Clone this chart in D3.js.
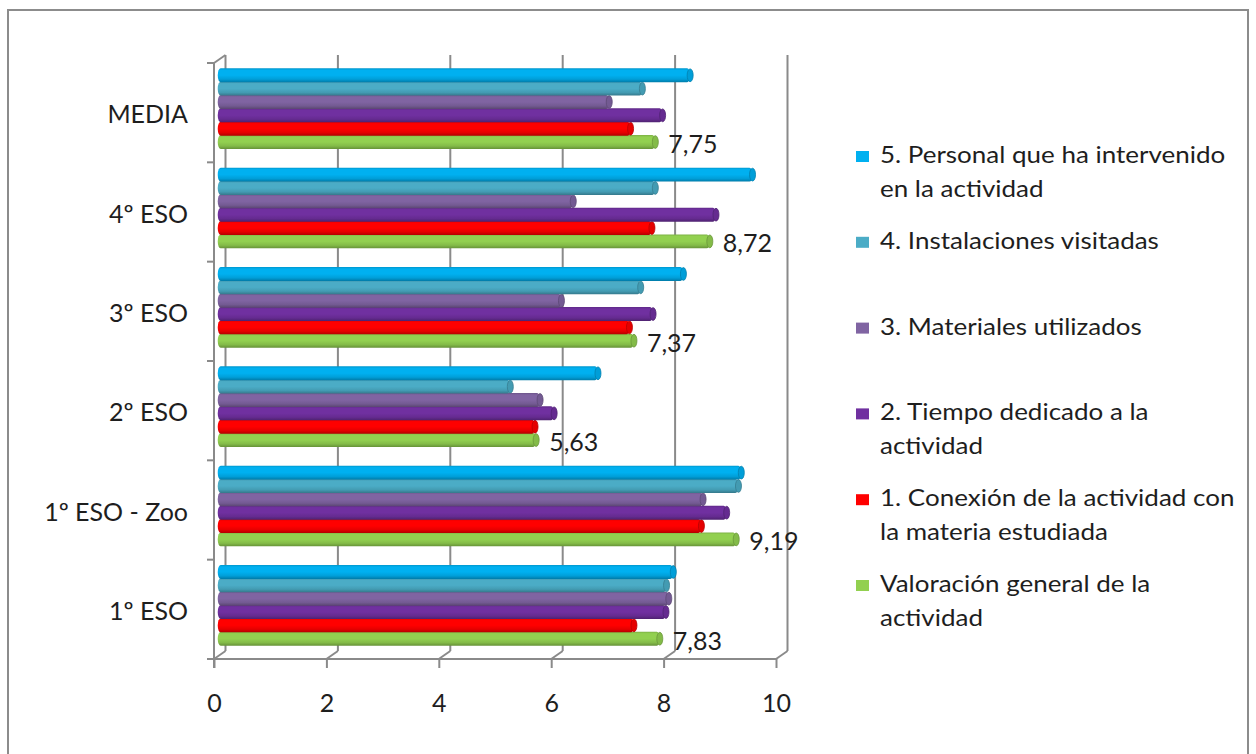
<!DOCTYPE html>
<html><head><meta charset="utf-8">
<script src="https://cdn.jsdelivr.net/npm/d3@7"></script>
<style>
body{margin:0;background:#fff}
svg{display:block}
text{font-family:Lato,"Open Sans",sans-serif;fill:#1e1e1e}
</style>
</head><body>
<svg id="c" width="1256" height="754"></svg>
<script>
// ---- data ----
const categories = ["1º ESO", "1º ESO - Zoo", "2º ESO", "3º ESO", "4º ESO", "MEDIA"];
const seriesKeys = ["valoracion", "conexion", "tiempo", "materiales", "instalaciones", "personal"];
const seriesColors = ["#92D050", "#FF0000", "#7030A0", "#8064A2", "#4BACC6", "#00B0F0"];
const legendLabels = [
  ["Valoración general de la", "actividad"],
  ["1. Conexión de la actividad con", "la materia estudiada"],
  ["2. Tiempo dedicado a la", "actividad"],
  ["3. Materiales utilizados"],
  ["4. Instalaciones visitadas"],
  ["5. Personal que ha intervenido", "en la actividad"]
];
const valoracion    = [7.83, 9.19, 5.63, 7.37, 8.72, 7.75];
const conexion      = [7.37, 8.57, 5.61, 7.29, 7.69, 7.31];
const tiempo        = [7.94, 9.02, 5.95, 7.71, 8.83, 7.88];
const materiales    = [7.99, 8.60, 5.70, 6.08, 6.29, 6.93];
const instalaciones = [7.95, 9.23, 5.17, 7.49, 7.75, 7.52];
const personal      = [8.07, 9.28, 6.73, 8.25, 9.48, 8.37];
const xTicks = [0, 2, 4, 6, 8, 10];
const seriesValues = [valoracion, conexion, tiempo, materiales, instalaciones, personal];

// ---- layout ----
const svg = d3.select("#c");
const L = 214, R = 776, T = 63, B = 659;
const DX = 11.5, DY = -8;          // depth offset (front -> back wall)
const axisCol = "#8a8a8a";

// outer border
svg.append("rect").attr("x", 8).attr("y", 10).attr("width", 1240).attr("height", 760)
  .attr("fill", "none").attr("stroke", "#8c8c8c").attr("stroke-width", 2);

const x = d3.scaleLinear().domain([0, 10]).range([L, R]);
const y = d3.scaleBand().domain(categories.slice().reverse()).range([T, B]);
const ySeries = d3.scaleBand().domain(seriesKeys.slice().reverse()).range([0, y.bandwidth()]).paddingOuter(0.72);

const g = svg.append("g");

// back wall gridlines + floor diagonals
xTicks.forEach(t => {
  g.append("line").attr("x1", x(t) + DX).attr("x2", x(t) + DX)
    .attr("y1", T + DY).attr("y2", B + DY)
    .attr("stroke", axisCol).attr("stroke-width", 2);
  g.append("line").attr("x1", x(t)).attr("y1", B).attr("x2", x(t) + DX).attr("y2", B + DY)
    .attr("stroke", axisCol).attr("stroke-width", 2);
});

// front floor axis
const xAxis = d3.axisBottom(x).tickValues(xTicks).tickSize(9).tickFormat(d3.format("d"));
const xg = g.append("g").attr("transform", `translate(0,${B})`).call(xAxis);
xg.select(".domain").remove();
xg.append("line").attr("x1", L - 7).attr("x2", R).attr("y1", 0).attr("y2", 0)
  .attr("stroke", axisCol).attr("stroke-width", 2);
xg.selectAll(".tick line").attr("stroke", axisCol).attr("stroke-width", 2);
xg.selectAll(".tick text").attr("y", 44).attr("dy", "0.35em")
  .style("font-size", "25px").style("font-family", "Lato").attr("fill", "#1e1e1e");

// left (category) axis
const yAxis = d3.axisLeft(y).tickSize(0).tickPadding(26);
const yg = g.append("g").attr("transform", `translate(${L},0)`).call(yAxis);
yg.select(".domain").remove();
yg.selectAll(".tick text").attr("dy", "0.42em")
  .style("font-size", "25px").style("font-family", "Lato").attr("fill", "#1e1e1e");
g.append("line").attr("x1", L).attr("x2", L).attr("y1", T).attr("y2", B + 9)
  .attr("stroke", axisCol).attr("stroke-width", 2);
g.append("line").attr("x1", L).attr("y1", T).attr("x2", L + DX).attr("y2", T + DY)
  .attr("stroke", axisCol).attr("stroke-width", 2);
const bounds = categories.map(c => y(c)).concat([B]);
bounds.forEach(v => {
  g.append("line").attr("x1", L - 7).attr("x2", L).attr("y1", v).attr("y2", v)
    .attr("stroke", axisCol).attr("stroke-width", 2);
});

// gradients (cylinder shading)
const defs = svg.append("defs");
seriesColors.forEach((c, i) => {
  const gr = defs.append("linearGradient").attr("id", "grad" + i)
    .attr("x1", 0).attr("y1", 0).attr("x2", 0).attr("y2", 1);
  const base = d3.color(c);
  [[0, base.darker(0.45)], [0.14, base], [0.5, base], [0.78, base.darker(0.3)], [1, base.darker(1.0)]]
    .forEach(([o, col]) => gr.append("stop").attr("offset", o).attr("stop-color", col.formatHex()));
});

// bars (mid depth)
const mx = DX / 2, my = DY / 2;
const bars = g.append("g");
seriesKeys.forEach((k, si) => {
  const vals = seriesValues[si];
  categories.forEach((cat, ci) => {
    const v = vals[ci];
    const y0 = y(cat) + my + ySeries(k);
    const h = ySeries.bandwidth();
    const x0 = x(0) + mx, x1 = x(v) + mx;
    bars.append("rect").attr("x", x0 - 2).attr("y", y0 - 0.3).attr("width", x1 - x0 + 2).attr("height", h + 0.6)
      .attr("rx", 3).attr("ry", h / 2).attr("fill", `url(#grad${si})`);
    bars.append("ellipse").attr("cx", x1).attr("cy", y0 + h / 2).attr("rx", 3).attr("ry", h / 2 - 0.3)
      .attr("fill", d3.color(seriesColors[si]).darker(0.3).formatHex())
      .attr("stroke", d3.color(seriesColors[si]).darker(0.9).formatHex()).attr("stroke-width", 0.8);
  });
});

// data labels for first series (valoración)
const fmt = v => d3.format(".2f")(v).replace(".", ",");
categories.forEach((cat, ci) => {
  const v = valoracion[ci];
  const y0 = y(cat) + my + ySeries("valoracion") + ySeries.bandwidth() / 2;
  g.append("text").attr("x", x(v) + mx + 13).attr("y", y0 + 2).attr("dy", "0.36em")
    .style("font-size", "25px").text(fmt(v));
});

// legend
const legendOrder = [5, 4, 3, 2, 1, 0];
const leg = svg.append("g");
legendOrder.forEach((si, i) => {
  const base = 163 + i * 85.8;
  leg.append("rect").attr("x", 856).attr("y", base - 12).attr("width", 13).attr("height", 11)
    .attr("fill", seriesColors[si]);
  legendLabels[si].forEach((line, li) => {
    leg.append("text").attr("transform", `translate(880,${base + li * 34}) scale(1.13,1)`)
      .style("font-size", "23px").text(line);
  });
});
</script>
</body></html>
